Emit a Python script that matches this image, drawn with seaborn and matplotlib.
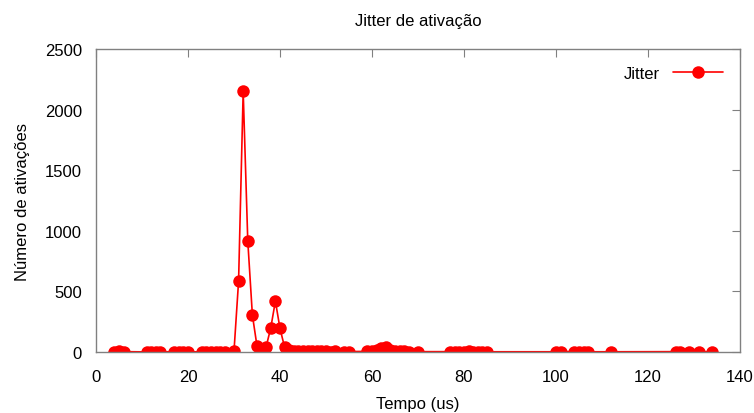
import matplotlib
matplotlib.use("Agg")
import matplotlib.pyplot as plt
import seaborn as sns
import pandas as pd

tempo = [4, 5, 6, 11, 12, 13, 14, 17, 18, 19, 20, 23, 24, 25, 26, 27, 28, 30,
         31, 32, 33, 34, 35, 36, 37, 38, 39, 40, 41,
         42, 43, 44, 45, 46, 47, 48, 49, 50, 51, 52, 54, 55,
         59, 60, 61, 62, 63, 64, 65, 66, 67, 68, 70,
         77, 78, 79, 80, 81, 82, 83, 84, 85,
         100, 101, 104, 105, 106, 107, 112, 126, 127, 129, 131, 134]
ativacoes = [2, 5, 3, 1, 2, 3, 1, 3, 4, 2, 1, 2, 3, 4, 3, 2, 2, 5,
             585, 2150, 915, 305, 50, 10, 45, 200, 420, 195, 40,
             15, 10, 8, 6, 5, 5, 8, 10, 6, 4, 5, 3, 4,
             5, 10, 20, 30, 45, 20, 12, 8, 5, 4, 3,
             3, 2, 4, 3, 5, 3, 2, 3, 2,
             2, 3, 3, 2, 4, 2, 2, 3, 2, 2, 3, 2]

df = pd.DataFrame({"Tempo": tempo, "Ativacoes": ativacoes, "serie": "Jitter"})

sns.set_style("white")
plt.rcParams["font.family"] = ["Liberation Sans", "DejaVu Sans"]
plt.rcParams["text.color"] = "black"
plt.rcParams["axes.labelcolor"] = "black"

fig = plt.figure(figsize=(7.54, 4.14), dpi=100)
ax = fig.add_axes([0.1273, 0.1473, 0.8541, 0.7319])

sns.lineplot(data=df, x="Tempo", y="Ativacoes", hue="serie", palette=["#ff0000"],
             marker="o", markersize=9, markeredgewidth=0, linewidth=1.2,
             ax=ax, legend=True)

ax.set_xlim(0, 140)
ax.set_ylim(0, 2500)
ax.set_xticks(range(0, 141, 20))
ax.set_yticks(range(0, 2501, 500))
ax.set_xlabel("Tempo (us)", fontsize=12, labelpad=9, color="black")
ax.set_ylabel("Número de ativações", fontsize=12, labelpad=11, color="black")
ax.set_title("Jitter de ativação", fontsize=12, pad=17, color="black")

for s in ax.spines.values():
    s.set_color("#808080")
    s.set_linewidth(1)
ax.tick_params(direction="in", top=True, right=True, length=6, color="#808080",
               labelsize=12, labelcolor="black")
ax.tick_params(axis="x", pad=12)
ax.tick_params(axis="y", pad=10)

leg = ax.legend(loc="upper right", frameon=False, fontsize=12, markerfirst=False,
                handlelength=3, borderaxespad=0.6)
for t in leg.get_texts():
    t.set_color("black")

fig.savefig("out.png", dpi=100)
